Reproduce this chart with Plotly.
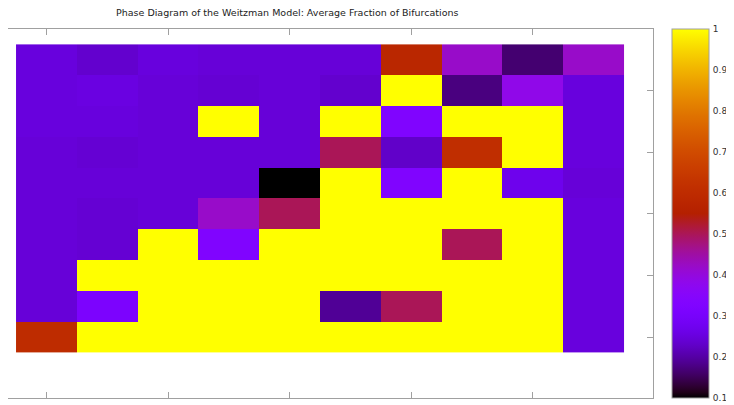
import math
import plotly.graph_objects as go

# ---- data ----
x_vals = list(range(10))
y_vals = list(range(10))  # 0 = bottom row
# rows listed top to bottom
rows_top_to_bottom = [
    [0.25, 0.235, 0.25, 0.245, 0.245, 0.245, 0.58, 0.42, 0.165, 0.42],
    [0.25, 0.255, 0.245, 0.24, 0.245, 0.235, 1.0, 0.175, 0.385, 0.25],
    [0.25, 0.25, 0.245, 1.0, 0.245, 1.0, 0.325, 1.0, 1.0, 0.25],
    [0.245, 0.24, 0.245, 0.245, 0.245, 0.5, 0.23, 0.61, 1.0, 0.25],
    [0.245, 0.245, 0.245, 0.245, 0.1, 1.0, 0.325, 1.0, 0.27, 0.245],
    [0.245, 0.24, 0.245, 0.42, 0.5, 1.0, 1.0, 1.0, 1.0, 0.25],
    [0.245, 0.24, 1.0, 0.325, 1.0, 1.0, 1.0, 0.5, 1.0, 0.25],
    [0.245, 1.0, 1.0, 1.0, 1.0, 1.0, 1.0, 1.0, 1.0, 0.25],
    [0.245, 0.315, 1.0, 1.0, 1.0, 0.19, 0.5, 1.0, 1.0, 0.25],
    [0.6, 1.0, 1.0, 1.0, 1.0, 1.0, 1.0, 1.0, 1.0, 0.25],
]
z_vals = rows_top_to_bottom[::-1]
cb_tickvals = [0.1, 0.2, 0.3, 0.4, 0.5, 0.6, 0.7, 0.8, 0.9, 1.0]
cb_ticktext = ["0.1", "0.2", "0.3", "0.4", "0.5", "0.6", "0.7", "0.8", "0.9", "1"]
title_text = "Phase Diagram of the Weitzman Model: Average Fraction of Bifurcations"

# gnuplot default palette (rgbformulae 7,5,15)
def pal(t):
    r = math.sqrt(t)
    g = t ** 3
    b = max(0.0, math.sin(2 * math.pi * t))
    return "rgb(%d,%d,%d)" % (round(r * 255), round(g * 255), round(b * 255))

N = 64
colorscale = [[i / N, pal(i / N)] for i in range(N + 1)]

# page body has an 8px margin; layout offsets compensate for it
W, H = 734, 405
ml, mt = 0, 21
pw, ph = 645, 369
mr = W - ml - pw
mb = H - mt - ph
cb_thick = 37
cb_x = 664 / pw
tick_px = 4

fig = go.Figure(go.Heatmap(
    x=x_vals, y=y_vals, z=z_vals,
    zmin=0.1, zmax=1.0,
    colorscale=colorscale,
    xgap=0, ygap=0,
    colorbar=dict(
        x=cb_x, xanchor="left", xref="paper",
        y=0, yanchor="bottom", len=1, lenmode="fraction",
        thickness=cb_thick, thicknessmode="pixels",
        outlinewidth=1, outlinecolor="#a0a0a0",
        tickvals=cb_tickvals, ticktext=cb_ticktext,
        ticks="outside", ticklen=2, tickcolor="rgba(0,0,0,0)",
        tickfont=dict(family="DejaVu Sans", size=9, color="#333"),
        xpad=0, ypad=0,
    ),
))

# inside colorbar ticks on both edges (gnuplot style)
shapes = []
for v in cb_tickvals[1:-1]:
    yp = (v - 0.1) / 0.9
    for x0, x1 in [(cb_x, cb_x + tick_px / pw),
                   (cb_x + (cb_thick - tick_px) / pw, cb_x + cb_thick / pw)]:
        shapes.append(dict(type="line", xref="paper", yref="paper",
                           x0=x0, x1=x1, y0=yp, y1=yp,
                           line=dict(color="#a0a0a0", width=1)))

fig.update_layout(
    width=W, height=H,
    margin=dict(l=ml, r=mr, t=mt, b=mb, autoexpand=False),
    paper_bgcolor="white", plot_bgcolor="white",
    shapes=shapes,
    annotations=[dict(text=title_text, xref="paper", yref="paper",
                      x=279 / pw, y=1 + (mt - 5) / ph,
                      xanchor="center", yanchor="middle", showarrow=False,
                      font=dict(family="DejaVu Sans", size=9.5, color="#222"))],
    xaxis=dict(range=[-0.632, 9.977], showgrid=False, zeroline=False,
               showline=True, linecolor="#a0a0a0", linewidth=1, mirror="ticks",
               ticks="inside", ticklen=6, tickcolor="#a0a0a0",
               tickvals=[0, 2, 4, 6, 8], showticklabels=False),
    yaxis=dict(range=[-1.98, 10.0], showgrid=False, zeroline=False,
               side="right", showline=True, linecolor="#a0a0a0", linewidth=1,
               ticks="inside", ticklen=6, tickcolor="#a0a0a0",
               tickvals=[0, 2, 4, 6, 8], showticklabels=False),
)

fig.write_html("out.html")
